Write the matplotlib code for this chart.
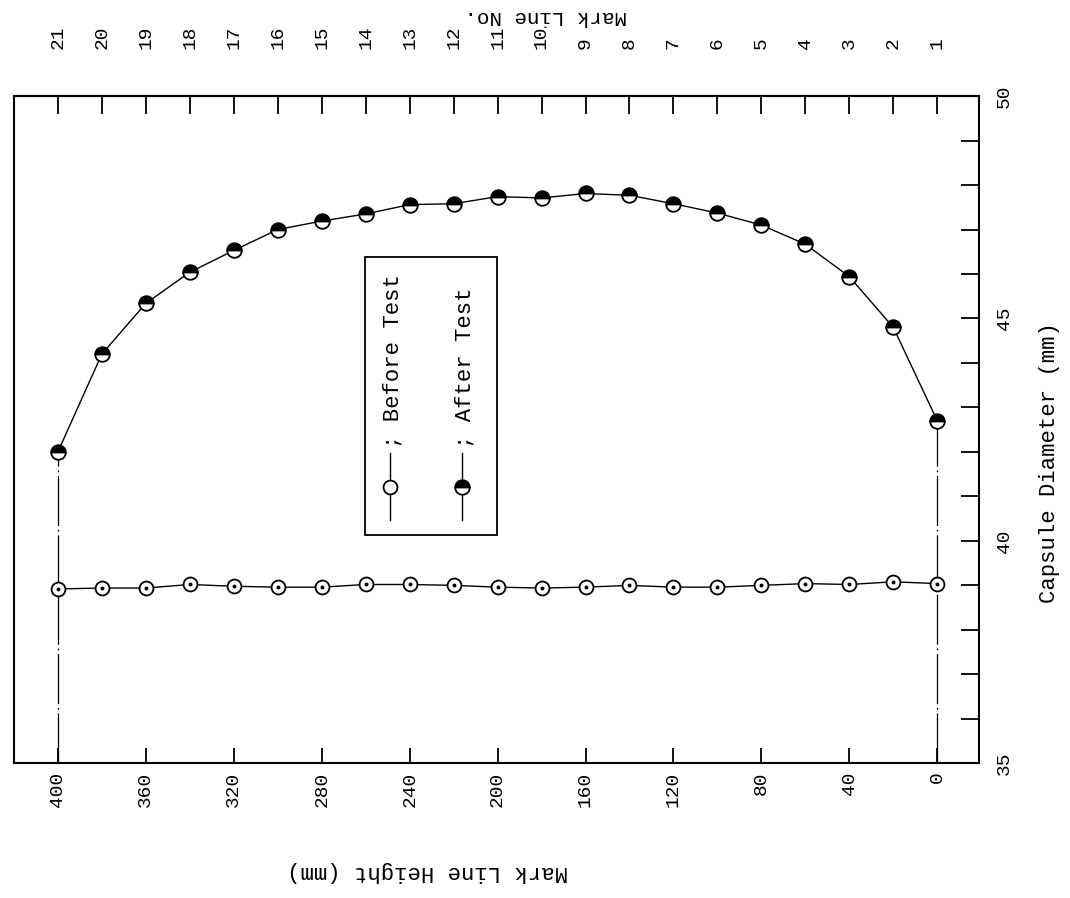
import numpy as np
import matplotlib
matplotlib.use("Agg")
import matplotlib.pyplot as plt
from matplotlib.patches import Rectangle

#=================
# data
#=================
# mark line heights (mm), mark line no. 1 -> 21
heights = [0, 20, 40, 60, 80, 100, 120, 140, 160, 180, 200,
           220, 240, 260, 280, 300, 320, 340, 360, 380, 400]

before_test = [39.04, 39.08, 39.02, 39.04, 39.00, 38.96, 38.96, 39.00, 38.96, 38.94, 38.96,
               39.00, 39.02, 39.02, 38.96, 38.96, 38.98, 39.02, 38.94, 38.94, 38.92]

after_test = [42.70, 44.80, 45.94, 46.67, 47.10, 47.37, 47.58, 47.77, 47.81, 47.71, 47.74,
              47.58, 47.56, 47.35, 47.19, 47.00, 46.53, 46.04, 45.34, 44.20, 42.00]

height_ticks = [400, 360, 320, 280, 240, 200, 160, 120, 80, 40, 0]
mark_line_no = list(range(1, 22))
diameter_ticks = [35, 40, 45, 50]

font = "Liberation Mono"
plt.rcParams["font.family"] = [font, "DejaVu Sans Mono"]

#=================
# figure
#=================
fig = plt.figure(figsize=(10.7, 8.98), dpi=100)
ax = fig.add_axes([0.013, 0.150, 0.902, 0.743])

# end lines down to the base
ax.vlines([heights[0], heights[-1]], 35, [after_test[0], after_test[-1]],
          colors="black", linewidth=0.9, linestyles=(0, (40, 3, 1.5, 3)), zorder=2)

ax.plot(heights, before_test, color="black", linewidth=1.0,
        marker="o", markersize=10, markerfacecolor="white",
        markeredgecolor="black", markeredgewidth=1.3, zorder=3)
ax.plot(heights, before_test, linestyle="none", marker="o", markersize=1.8,
        color="black", zorder=4)

ax.plot(heights, after_test, color="black", linewidth=1.0,
        marker="o", markersize=10.5, fillstyle="top",
        markerfacecolor="black", markerfacecoloralt="white",
        markeredgecolor="black", markeredgewidth=1.3, zorder=3)

ax.set_xlim(420, -19)
ax.set_ylim(35, 50)

for side in ax.spines.values():
    side.set_linewidth(1.5)

# bottom axis: mark line height
ax.set_xticks(height_ticks)
ax.set_xticklabels([str(t) for t in height_ticks], rotation=90,
                   fontsize=14, family=font)
ax.tick_params(axis="x", direction="in", length=11, width=1.3, pad=6)

# right axis: capsule diameter
ax.yaxis.tick_right()
ax.set_yticks(diameter_ticks)
ax.set_yticks(np.arange(35, 51, 1), minor=True)
ax.set_yticklabels([str(t) for t in diameter_ticks], rotation=90,
                   fontsize=14, family=font, va="center")
ax.tick_params(axis="y", which="both", direction="in", length=13, width=1.3,
               pad=12, left=False, right=True)

# top axis: mark line number
top = ax.secondary_xaxis("top", functions=(lambda h: h / 20 + 1,
                                           lambda n: (n - 1) * 20))
top.set_xticks(mark_line_no)
top.set_xticklabels([str(n) for n in mark_line_no], rotation=90,
                    fontsize=14, family=font)
top.tick_params(direction="in", length=13, width=1.3, pad=34)
top.spines["top"].set_linewidth(1.5)

# axis titles
fig.text(0.400, 0.030, "Mark Line Height (mm)", rotation=180,
         ha="center", va="center", fontsize=16, family=font)
fig.text(0.510, 0.982, "Mark Line No.", rotation=180,
         ha="center", va="center", fontsize=15, family=font)
fig.text(0.981, 0.485, "Capsule Diameter (mm)", rotation=90,
         ha="center", va="center", fontsize=16, family=font)

#=================
# legend (rotated)
#=================
ax.add_patch(Rectangle((0.364, 0.342), 0.137, 0.417, transform=ax.transAxes,
                       fill=False, edgecolor="black", linewidth=1.3, zorder=5))

ax.plot([0.390, 0.390], [0.364, 0.465], transform=ax.transAxes,
        color="black", linewidth=1.0, zorder=5)
ax.plot([0.390], [0.414], transform=ax.transAxes, marker="o", markersize=10,
        markerfacecolor="white", markeredgecolor="black", markeredgewidth=1.3, zorder=6)
ax.text(0.393, 0.472, "; Before Test", transform=ax.transAxes, rotation=90,
        ha="center", va="bottom", fontsize=16, family=font, zorder=6)

ax.plot([0.464, 0.464], [0.364, 0.465], transform=ax.transAxes,
        color="black", linewidth=1.0, zorder=5)
ax.plot([0.464], [0.414], transform=ax.transAxes, marker="o", markersize=10.5,
        fillstyle="top", markerfacecolor="black", markerfacecoloralt="white",
        markeredgecolor="black", markeredgewidth=1.3, zorder=6)
ax.text(0.467, 0.472, "; After Test", transform=ax.transAxes, rotation=90,
        ha="center", va="bottom", fontsize=16, family=font, zorder=6)

fig.savefig("out.png", dpi=100)
plt.close(fig)
